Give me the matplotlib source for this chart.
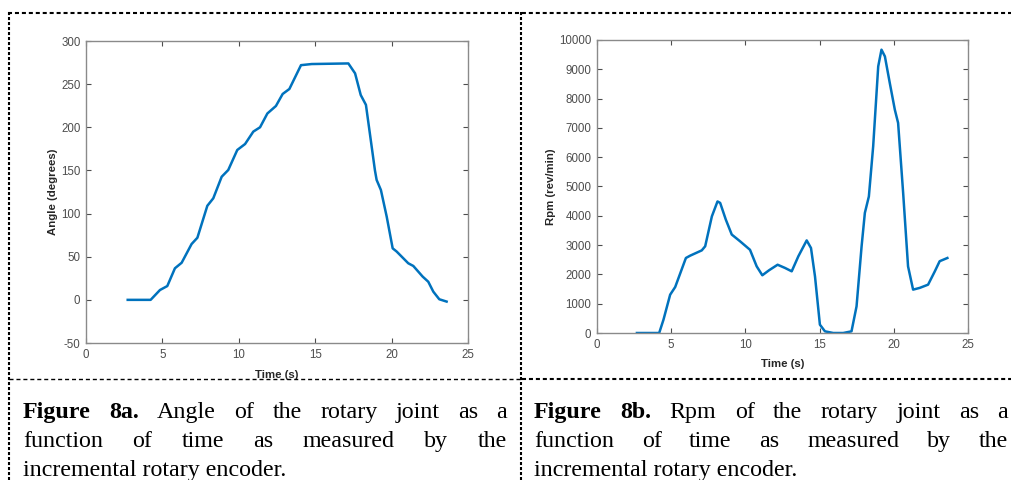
import numpy as np
import matplotlib
matplotlib.use('Agg')
import matplotlib.pyplot as plt
from matplotlib.lines import Line2D

plt.rcParams['font.family'] = ['Liberation Sans', 'DejaVu Sans']
plt.rcParams['lines.scale_dashes'] = False
plt.rcParams['axes.unicode_minus'] = False

# Figure 8a: angle vs time
t_angle = [2.73, 4.23, 4.84, 5.32, 5.82, 6.26, 6.91, 7.29, 7.94, 8.33, 8.88, 9.31,
           9.90, 10.41, 10.95, 11.39, 11.87, 12.43, 12.87, 13.31, 14.07, 14.77, 17.17,
           17.61, 17.98, 18.32, 18.91, 19.02, 19.30, 19.68, 20.07, 20.33, 21.09, 21.42,
           22.03, 22.40, 22.73, 23.12, 23.60]
angle = [0, 0, 11.4, 16, 36.6, 43, 64.7, 72, 109, 117.7, 142.7, 150.5,
         173.7, 180.6, 195, 200, 216, 224.7, 238.6, 244.4, 272, 273.3, 274,
         262.5, 237.4, 226, 150, 139, 127.3, 96.4, 59.7, 56, 42.4, 39.3,
         27, 21, 9.5, 0.7, -2]

# Figure 8b: rpm vs time
t_rpm = [2.69, 4.19, 4.48, 4.93, 5.27, 5.99, 6.28, 7.06, 7.29, 7.74, 8.12, 8.30,
         8.68, 9.08, 9.64, 10.31, 10.76, 11.14, 11.59, 12.17, 12.67, 13.12, 13.57,
         14.13, 14.42, 14.69, 15.02, 15.36, 15.92, 16.59, 17.15, 17.49, 17.83, 18.05,
         18.32, 18.61, 18.95, 19.17, 19.40, 19.73, 20.07, 20.29, 20.63, 20.96, 21.30,
         21.75, 22.31, 22.76, 23.09, 23.61]
rpm = [0, 0, 455, 1308, 1570, 2560, 2640, 2820, 2960, 3980, 4490, 4440,
       3870, 3360, 3130, 2840, 2275, 1970, 2140, 2330, 2220, 2105, 2620,
       3160, 2900, 1930, 285, 57, 0, 0, 57, 910, 2960, 4100,
       4660, 6370, 9100, 9670, 9440, 8530, 7620, 7170, 4780, 2275, 1480,
       1540, 1650, 2100, 2450, 2560]

x_ticks = [0, 5, 10, 15, 20, 25]
angle_ticks = [-50, 0, 50, 100, 150, 200, 250, 300]
rpm_ticks = list(range(0, 10001, 1000))

caption_a = [[('Figure', True), ('8a.', True), ('Angle', False), ('of', False), ('the', False),
              ('rotary', False), ('joint', False), ('as', False), ('a', False)],
             [('function', False), ('of', False), ('time', False), ('as', False),
              ('measured', False), ('by', False), ('the', False)],
             'incremental rotary encoder.']
caption_b = [[('Figure', True), ('8b.', True), ('Rpm', False), ('of', False), ('the', False),
              ('rotary', False), ('joint', False), ('as', False), ('a', False)],
             [('function', False), ('of', False), ('time', False), ('as', False),
              ('measured', False), ('by', False), ('the', False)],
             'incremental rotary encoder.']

W, H = 1011, 480
fig = plt.figure(figsize=(W / 100, H / 100), dpi=100)

line_color = '#0072BD'
spine_color = '#8a8a8a'
tick_color = '#4d4d4d'
label_kw = dict(fontsize=8.2, fontweight='bold', color='#262626')


def style_axes(ax):
    for s in ax.spines.values():
        s.set_color(spine_color)
        s.set_linewidth(1.0)
    ax.tick_params(direction='in', top=True, right=True, length=3.5, width=0.8,
                   color=tick_color, labelcolor=tick_color, labelsize=8.3, pad=4)


ax1 = fig.add_axes([86 / W, 1 - 343 / H, 382 / W, 302 / H])
ax1.plot(t_angle, angle, color=line_color, lw=1.8)
ax1.set_xlim(0, 25)
ax1.set_ylim(-50, 300)
ax1.set_xticks(x_ticks)
ax1.set_yticks(angle_ticks)
style_axes(ax1)
ax1.set_xlabel('Time (s)', labelpad=7, **label_kw)
ax1.set_ylabel('Angle (degrees)', labelpad=2, **label_kw)

ax2 = fig.add_axes([597 / W, 1 - 333 / H, 371 / W, 293 / H])
ax2.plot(t_rpm, rpm, color=line_color, lw=1.8)
ax2.set_xlim(0, 25)
ax2.set_ylim(0, 10000)
ax2.set_xticks(x_ticks)
ax2.set_yticks(rpm_ticks)
style_axes(ax2)
ax2.set_xlabel('Time (s)', labelpad=6, **label_kw)
ax2.set_ylabel('Rpm (rev/min)', labelpad=2, **label_kw)


# dashed frame around the two panels
def dashed(xs, ys, lw=1.5, dashes=(2.9, 2.1)):
    ln = Line2D([x / W for x in xs], [1 - y / H for y in ys], transform=fig.transFigure,
                color='black', lw=lw, linestyle=(0, dashes))
    fig.add_artist(ln)


dashed([8, W], [12.5, 12.5])
dashed([9, 9], [12, H], dashes=(2.2, 1.4))
dashed([521, 521], [12, H], dashes=(2.2, 1.4))
dashed([9, 520], [379, 379], lw=1.0)
dashed([522, W], [379, 379])

# justified captions
cap_font = dict(family=['Liberation Serif', 'DejaVu Serif'], fontsize=17.3, color='black')
renderer = fig.canvas.get_renderer()


def justified(words, x0, x1, y):
    arts = []
    total = 0
    for w, b in words:
        t = fig.text(0, 1 - y / H, w, fontweight='bold' if b else 'normal',
                     va='baseline', ha='left', **cap_font)
        wd = t.get_window_extent(renderer).width
        arts.append((t, wd))
        total += wd
    gap = (x1 - x0 - total) / (len(words) - 1)
    x = x0
    for t, wd in arts:
        t.set_x(x / W)
        x += wd + gap


for cap, x0, x1 in [(caption_a, 23, 507), (caption_b, 534, 1008)]:
    justified(cap[0], x0, x1, 418)
    justified(cap[1], x0, x1, 447)
    fig.text(x0 / W, 1 - 476 / H, cap[2], va='baseline', ha='left', **cap_font)

fig.savefig('out.png', dpi=100)
